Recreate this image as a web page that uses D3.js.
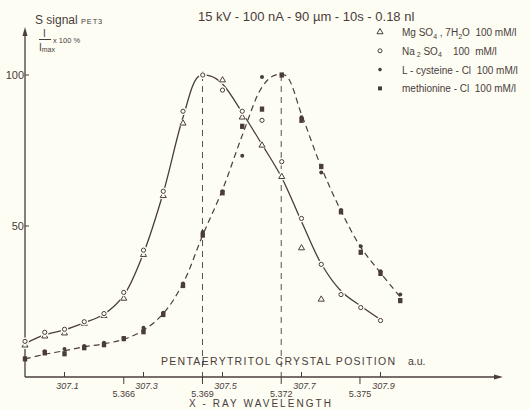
<!doctype html>
<html lang="en">
  <head>
    <meta charset="UTF-8" />
    <title>S signal PET3</title>
    <script src="https://unpkg.com/d3@7.9.0/dist/d3.min.js"></script>
    <style>
      body {
        margin: 0;
        background: #fdfdf3;
      }
      svg {
        font-family: 'Liberation Sans', 'DejaVu Sans', sans-serif;
        fill: #4a3c3c;
      }
    </style>
  </head>
  <body>
    <div id="graph"></div>
    <script>
      // crystal positions (a.u.) where the points were measured
      const positions = [
        307.0, 307.05, 307.1, 307.15, 307.2, 307.25, 307.3, 307.35, 307.4, 307.45,
        307.5, 307.55, 307.6, 307.65, 307.7, 307.75, 307.8, 307.85, 307.9, 307.95,
      ];
      // I / Imax x 100 %
      const mgso4 = [10.5, 13.5, 14.5, 17.7, 20.3, 26, 40.5, 60, 84, 100, 98.3, 86, 76.7, 66.3, 42.7, 25.7];
      const na2so4 = [11.8, 14.8, 15.8, 18.3, 21, 28, 42, 61.5, 88, 100, 95, 88, 85, 71.3, 52.5, 37.3, 27.3, 23, 18.7];
      const cysteine = [6, 8.5, 9.3, 10.3, 11.3, 12.7, 16.3, 21.3, 31, 48, 61.5, 73.3, 99.3, 100, 86, 67.7, 55.3, 43.3, 35, 27.3];
      const methionine = [6, 8, 7.7, 9.7, 10.7, 12.7, 15, 20.7, 30.3, 47, 61, 83, 88.7, 100, 85, 69.7, 54.7, 41.3, 34.3, 25.3];

      // hand drawn fit curves
      const solidFitX = [307.0, 307.05, 307.1, 307.15, 307.2, 307.25, 307.3, 307.35, 307.4, 307.44, 307.47, 307.5, 307.55, 307.6, 307.65, 307.7, 307.75, 307.8, 307.85, 307.9];
      const solidFit = [11, 14, 15.6, 18, 20.8, 27, 41, 61, 86, 99.6, 99.6, 97, 87.5, 77, 66, 51.5, 37.5, 28.5, 23.5, 19];
      const dashedFitX = [307.0, 307.05, 307.1, 307.15, 307.2, 307.25, 307.3, 307.35, 307.4, 307.45, 307.5, 307.55, 307.6, 307.63, 307.66, 307.7, 307.75, 307.8, 307.85, 307.9, 307.95];
      const dashedFit = [6, 7.5, 8.7, 10, 11, 12.5, 15.5, 21, 31, 47, 62, 80, 96, 99.8, 99.8, 87, 69.5, 55, 43, 34.5, 26.5];

      const crystalTicks = [307.1, 307.3, 307.5, 307.7, 307.9];
      const wavelengthTicks = [5.366, 5.369, 5.372, 5.375];
      const peakWavelengths = [5.369, 5.372];
      const yTicks = [50, 100];

      const legendItems = [
        { shape: 'triangle', parts: [['Mg SO', 0], ['4', 1], [' , 7H', 0], ['2', 1], ['O  100 mM/l', 0]] },
        { shape: 'circle', parts: [['Na', 0], [' 2', 1], [' SO', 0], ['4', 1], ['    100  mM/l', 0]] },
        { shape: 'dot', parts: [['L - cysteine - Cl  100 mM/l', 0]] },
        { shape: 'square', parts: [['methionine - Cl  100 mM/l', 0]] },
      ];

      const ink = '#4a3c3c';
      const paper = '#fdfdf3';
      const W = 530;
      const H = 410;

      const x = d3.scaleLinear().domain([307.0, 308.0]).range([25, 420]);
      const y = d3.scaleLinear().domain([0, 100]).range([377, 75]);
      // wavelength axis runs parallel to crystal position
      const wl = d3.scaleLinear().domain([5.366, 5.375]).range([x(307.25), x(307.848)]);

      const svg = d3.select('#graph').append('svg').attr('width', W).attr('height', H);
      svg.append('rect').attr('width', W).attr('height', H).attr('fill', paper);

      // axes
      svg.append('line')
        .attr('x1', x(307)).attr('x2', 500)
        .attr('y1', y(0)).attr('y2', y(0))
        .attr('stroke', ink).attr('stroke-width', 1.3);
      svg.append('path').attr('d', `M503,${y(0)} l-9,-2.5 l0,5 z`).attr('fill', ink);
      svg.append('line')
        .attr('x1', x(307)).attr('x2', x(307))
        .attr('y1', y(0)).attr('y2', 32)
        .attr('stroke', ink).attr('stroke-width', 1.3);
      svg.append('path').attr('d', `M${x(307)},27 l-2.5,9 l5,0 z`).attr('fill', ink);

      // y ticks
      yTicks.forEach((t) => {
        svg.append('line')
          .attr('x1', x(307)).attr('x2', x(307) + 4)
          .attr('y1', y(t)).attr('y2', y(t))
          .attr('stroke', ink);
        svg.append('text')
          .attr('x', x(307) - 1).attr('y', y(t) + 4)
          .attr('text-anchor', 'end')
          .attr('font-size', 11)
          .text(t);
      });

      // crystal position ticks (above axis)
      crystalTicks.forEach((t) => {
        svg.append('line')
          .attr('x1', x(t)).attr('x2', x(t))
          .attr('y1', y(0) - 5).attr('y2', y(0))
          .attr('stroke', ink);
        svg.append('text')
          .attr('x', x(t) + 3).attr('y', 389)
          .attr('text-anchor', 'middle')
          .attr('font-size', 9)
          .attr('font-style', 'italic')
          .text(t.toFixed(1));
      });

      // wavelength ticks (below axis)
      wavelengthTicks.forEach((t) => {
        svg.append('line')
          .attr('x1', wl(t)).attr('x2', wl(t))
          .attr('y1', y(0)).attr('y2', y(0) + 7)
          .attr('stroke', ink);
        svg.append('text')
          .attr('x', wl(t)).attr('y', 397)
          .attr('text-anchor', 'middle')
          .attr('font-size', 9)
          .text(t.toFixed(3));
      });

      // dashed lines at the two peak wavelengths
      peakWavelengths.forEach((t) => {
        svg.append('line')
          .attr('x1', wl(t)).attr('x2', wl(t))
          .attr('y1', y(100)).attr('y2', y(0))
          .attr('stroke', ink).attr('stroke-width', 0.9)
          .attr('stroke-dasharray', '6,5');
      });

      // fitted curves
      const solidData = solidFitX.map((p, i) => [p, solidFit[i]]);
      const dashedData = dashedFitX.map((p, i) => [p, dashedFit[i]]);
      const line = d3.line()
        .x((d) => x(d[0]))
        .y((d) => y(d[1]))
        .curve(d3.curveCatmullRom.alpha(0.5));

      svg.append('path')
        .attr('d', line(dashedData))
        .attr('fill', 'none').attr('stroke', ink)
        .attr('stroke-width', 1.2)
        .attr('stroke-dasharray', '6,4');
      svg.append('path')
        .attr('d', line(solidData))
        .attr('fill', 'none').attr('stroke', ink)
        .attr('stroke-width', 1.3);

      // markers
      const tri = d3.symbol().type(d3.symbolTriangle).size(16);

      function drawMarkers(values, shape) {
        const pts = values.map((v, i) => [positions[i], v]);
        const g = svg.append('g');
        if (shape === 'circle' || shape === 'triangle') {
          // break the line round the open symbols
          g.selectAll('.gap').data(pts).join('circle')
            .attr('cx', (d) => x(d[0])).attr('cy', (d) => y(d[1]))
            .attr('r', 3.8).attr('fill', paper);
        }
        if (shape === 'circle') {
          g.selectAll('.m').data(pts).join('circle')
            .attr('cx', (d) => x(d[0])).attr('cy', (d) => y(d[1]))
            .attr('r', 2.1).attr('fill', paper)
            .attr('stroke', ink).attr('stroke-width', 1);
        } else if (shape === 'triangle') {
          g.selectAll('.m').data(pts).join('path')
            .attr('d', tri)
            .attr('transform', (d) => `translate(${x(d[0])},${y(d[1])})`)
            .attr('fill', paper)
            .attr('stroke', ink).attr('stroke-width', 1);
        } else if (shape === 'dot') {
          g.selectAll('.m').data(pts).join('circle')
            .attr('cx', (d) => x(d[0])).attr('cy', (d) => y(d[1]))
            .attr('r', 2).attr('fill', ink);
        } else {
          g.selectAll('.m').data(pts).join('rect')
            .attr('x', (d) => x(d[0]) - 2.2).attr('y', (d) => y(d[1]) - 2.6)
            .attr('width', 4.4).attr('height', 5.2).attr('fill', ink);
        }
      }
      drawMarkers(methionine, 'square');
      drawMarkers(cysteine, 'dot');
      drawMarkers(mgso4, 'triangle');
      drawMarkers(na2so4, 'circle');

      // titles
      svg.append('text')
        .attr('x', 198).attr('y', 21)
        .attr('font-size', 13)
        .text('15 kV - 100 nA  - 90 µm - 10s - 0.18 nl');

      const ylab = svg.append('text').attr('x', 35).attr('y', 24).attr('font-size', 12);
      ylab.append('tspan').text('S signal  ');
      ylab.append('tspan').attr('font-size', 7.5).attr('letter-spacing', 0.8).text('PET3');
      svg.append('text').attr('x', 43).attr('y', 37).attr('font-size', 10).text('I');
      svg.append('line')
        .attr('x1', 39).attr('x2', 51).attr('y1', 39.5).attr('y2', 39.5)
        .attr('stroke', ink).attr('stroke-width', 1);
      const imax = svg.append('text').attr('x', 39).attr('y', 51).attr('font-size', 10);
      imax.append('tspan').text('I');
      imax.append('tspan').attr('font-size', 7).attr('dy', 1).text('max');
      svg.append('text').attr('x', 53).attr('y', 43).attr('font-size', 7.5).text('x 100 %');

      // legend
      legendItems.forEach((item, i) => {
        const cy = 32 + i * 18.8;
        const cx = 380;
        if (item.shape === 'triangle') {
          svg.append('path').attr('d', tri).attr('transform', `translate(${cx},${cy})`)
            .attr('fill', 'none').attr('stroke', ink).attr('stroke-width', 1);
        } else if (item.shape === 'circle') {
          svg.append('circle').attr('cx', cx).attr('cy', cy).attr('r', 2)
            .attr('fill', 'none').attr('stroke', ink).attr('stroke-width', 1);
        } else if (item.shape === 'dot') {
          svg.append('circle').attr('cx', cx).attr('cy', cy).attr('r', 1.8).attr('fill', ink);
        } else {
          svg.append('rect').attr('x', cx - 2).attr('y', cy - 2).attr('width', 4).attr('height', 4).attr('fill', ink);
        }
        const t = svg.append('text').attr('x', 402).attr('y', cy + 4).attr('font-size', 10);
        item.parts.forEach(([s, sub], k) => {
          const prevSub = k > 0 ? item.parts[k - 1][1] : 0;
          const dy = (sub ? 2.5 : 0) - (prevSub ? 2.5 : 0);
          t.append('tspan')
            .attr('dy', dy)
            .attr('font-size', sub ? 7 : 10)
            .style('white-space', 'pre')
            .text(s);
        });
      });

      // axis titles
      svg.append('text')
        .attr('x', 161).attr('y', 365)
        .attr('font-size', 10.5)
        .attr('textLength', 234).attr('lengthAdjust', 'spacing')
        .text('PENTAERYTRITOL CRYSTAL POSITION');
      svg.append('text')
        .attr('x', 408).attr('y', 365)
        .attr('font-size', 10.5)
        .text('a.u.');
      svg.append('text')
        .attr('x', 189).attr('y', 407)
        .attr('font-size', 10)
        .attr('textLength', 142).attr('lengthAdjust', 'spacing')
        .style('white-space', 'pre')
        .text('X - RAY WAVELENGTH');
    </script>
  </body>
</html>
